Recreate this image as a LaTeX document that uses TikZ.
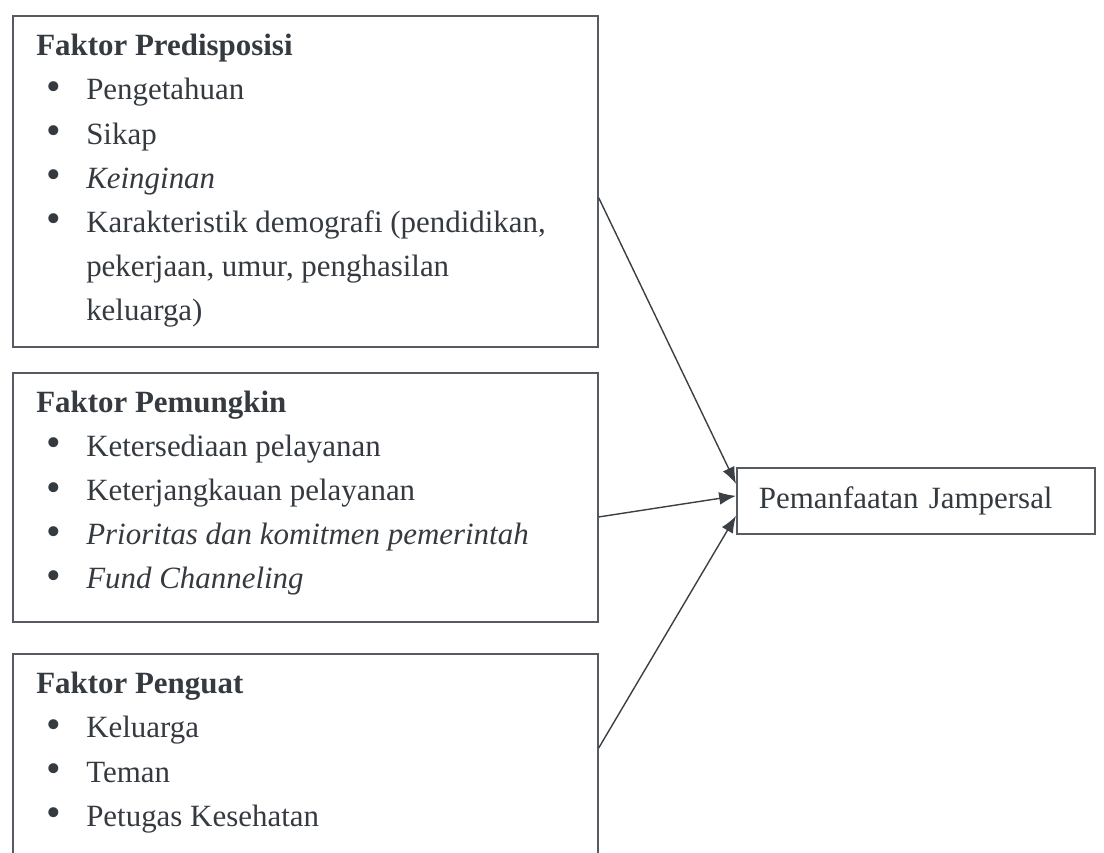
\documentclass[tikz,border=0pt]{standalone}
\usepackage{fontspec}
\setmainfont{Liberation Serif}
\usetikzlibrary{arrows.meta, positioning, calc}
\definecolor{boxline}{HTML}{555B61}
\definecolor{inkgray}{HTML}{353A40}
\definecolor{arrowcol}{HTML}{3A4046}
\newcommand{\bitem}[1]{\hspace*{0.25cm}\makebox[1.0cm][l]{\raisebox{-0.02em}{\scalebox{1.35}{\textbullet}}}#1}
\newcommand{\bcont}[1]{\hspace*{1.25cm}#1}

\begin{document}
\begin{tikzpicture}[
        %% Grid: 1px of the scan = 0.025cm; y grows downwards (negative).
        factbox/.style={rectangle, draw=boxline, line width=1.2pt, minimum width=14.625cm, anchor=north west, inner sep=0pt},
        listtext/.style={anchor=north west, inner sep=0pt, align=left, text=inkgray, font=\fontsize{22pt}{31.4pt}\selectfont},
        outbox/.style={rectangle, draw=boxline, line width=1.2pt, anchor=north west, minimum height=1.65cm, text width=7.85cm, inner xsep=0.55cm, align=left, text=inkgray, font=\fontsize{22pt}{26pt}\selectfont},
        arrow/.style={-{Latex[length=0.42cm, width=0.32cm]}, line width=1pt, color=arrowcol}
    ]
    %% --- Page frame (third box runs off the bottom edge) ---
    \useasboundingbox (0, 0) rectangle (27.6, -21.3);
    \clip (0, 0) rectangle (27.6, -21.3);

    %% --- Factor boxes (left column) ---
    \node[factbox, minimum height=8.275cm] (predis)    at (0.3, -0.375)  {};
    \node[factbox, minimum height=6.225cm] (pemungkin) at (0.3, -9.3)    {};
    \node[factbox, minimum height=8.0cm]   (penguat)   at (0.3, -16.325) {};

    %% --- Box contents ---
    \node[listtext] (predistext) at ([shift={(0.6, -0.475)}]predis.north west) {%
        \textbf{Faktor Predisposisi}\\
        \bitem{Pengetahuan}\\
        \bitem{Sikap}\\
        \bitem{\textit{Keinginan}}\\
        \bitem{Karakteristik demografi (pendidikan,}\\
        \bcont{pekerjaan, umur, penghasilan}\\
        \bcont{keluarga)}};
    \node[listtext] (pemungkintext) at ([shift={(0.6, -0.46)}]pemungkin.north west) {%
        \textbf{Faktor Pemungkin}\\
        \bitem{Ketersediaan pelayanan}\\
        \bitem{Keterjangkauan pelayanan}\\
        \bitem{\textit{Prioritas dan komitmen pemerintah}}\\
        \bitem{\textit{Fund Channeling}}};
    \node[listtext] (penguattext) at ([shift={(0.6, -0.475)}]penguat.north west) {%
        \textbf{Faktor Penguat}\\
        \bitem{Keluarga}\\
        \bitem{Teman}\\
        \bitem{Petugas Kesehatan}};

    %% --- Outcome box ---
    \node[outbox] (jampersal) at (18.4, -11.675) {Pemanfaatan Jampersal};

    %% --- Arrows into the outcome ---
    \draw[arrow] ([yshift=-0.41cm]predis.east)         -- ([yshift=0.425cm]jampersal.west);
    \draw[arrow] ([yshift=-0.49cm]pemungkin.east)      -- ([yshift=0.125cm]jampersal.west);
    \draw[arrow] ([yshift=-2.375cm]penguat.north east) -- ([yshift=-0.375cm]jampersal.west);
\end{tikzpicture}
\end{document}
